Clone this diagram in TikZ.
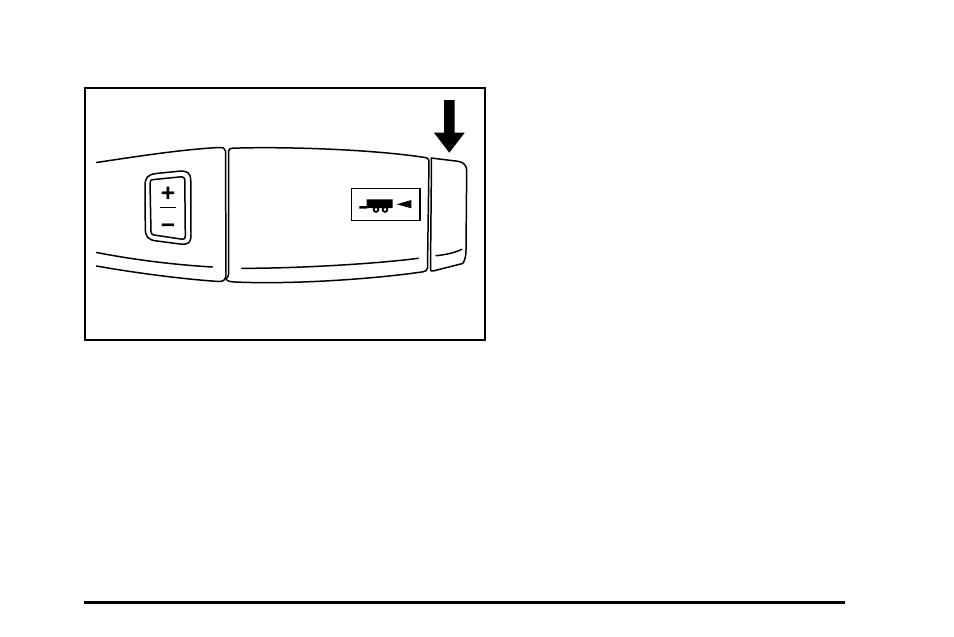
\documentclass[tikz,border=0pt]{standalone}
\usepackage{fontspec}
\setmainfont{Liberation Sans}
\usepackage{tikz}
\usetikzlibrary{calc,positioning}
\tikzset{
outline/.style={line width=0.85pt,line join=round,line cap=round},
thinline/.style={line width=0.5pt},
solid part/.style={fill=black,draw=none},
signlabel/.style={font=\bfseries\fontsize{14}{14}\selectfont,inner sep=0pt}
}
\begin{document}
\begin{tikzpicture}
[x=0.02cm,y=-0.02cm]
\useasboundingbox (0,0) rectangle (954,636);
% frame and rule
\draw[line width=1.1pt] (85,88) rectangle (485,340);
\draw[line width=2pt] (84,602.5) -- (845,602.5);
% left part of the handle
\draw[outline] (96.5,162.5) .. controls (130,157.5) and (180,149.5) .. (219,147.5) .. controls (223,147.3) and (225,148) .. (225.5,151) -- (226,274) .. controls (226,279) and (224,281.8) .. (219,281.5) .. controls (180,279) and (130,272) .. (96.5,266);
\draw[outline] (96.5,252.5) .. controls (130,259) and (170,264.5) .. (212.5,267);
% switch
\draw[outline] (145,186) .. controls (145,177) and (148,174.5) .. (157,173.4) -- (179,171.2) .. controls (188,170.5) and (190.5,173) .. (190.8,181) -- (191,234) .. controls (191,243) and (189,244.8) .. (180,244) -- (157,241) .. controls (148,240) and (145.3,237) .. (145.3,228) -- cycle;
\draw[outline] (150,183) .. controls (150,180.5) and (151,179.8) .. (153,179.6) -- (181,176.8) .. controls (183.5,176.6) and (184.7,177.5) .. (184.8,180) -- (185.3,236) .. controls (185.3,238.5) and (184.5,239.5) .. (182,239.2) -- (154,235) .. controls (152,234.7) and (151,233.8) .. (151,231.5) -- cycle;
\node[signlabel] (plus) at (168,194) {+};
\node[signlabel] (minus) at (168,229) {−};
\draw[thinline] (160,207.3) -- (175.7,207.3);
% middle part
\draw[outline] (228.5,151) .. controls (229,149) and (230,148.3) .. (233,148.2) .. controls (280,146.5) and (370,149) .. (425,157.5) .. controls (427,157.8) and (428.5,158.5) .. (429,160.5) -- (427.5,268) .. controls (427,270.5) and (425.5,271.5) .. (423,271.8) .. controls (370,279.5) and (290,284.5) .. (235,282) .. controls (230,281.8) and (227,281) .. (226,279);
\draw[outline] (228.7,151) -- (228.7,272) .. controls (228.7,276) and (227.5,278) .. (226,279);
\draw[outline] (241.7,268.3) .. controls (290,268.5) and (370,264.5) .. (418.3,258.3);
% trailer button
\draw[line width=0.85pt] (351.5,188.5) rectangle (420,220.5);
\fill[solid part] (366.7,199.3) rectangle (392.7,208) (359.3,206) rectangle (367,208.7);
\draw[line width=1pt] (376,209.5) circle (2.4) (385,209.5) circle (2.4);
\fill[solid part] (396.7,204.3) -- (411.3,200) -- (411.3,208.3) -- cycle;
% end cap
\draw[outline] (431,158) -- (458,161.3) .. controls (463,162) and (466.5,165) .. (466.7,170) -- (466,250) .. controls (466,257) and (464.5,261) .. (462.7,263.5) -- (433,271) .. controls (431,271.5) and (430.3,271) .. (430.5,268) -- (431.5,160) .. controls (431.5,158.5) and (431,158) .. (431,158);
\draw[outline] (436,255.7) .. controls (445,254.8) and (455,252.8) .. (461.7,249.3);
% arrow
\fill[solid part] (444,100) -- (454.7,100) -- (454.7,132.7) -- (464.7,132.7) -- (449.3,152.7) -- (434,132.7) -- (444,132.7) -- cycle;
\end{tikzpicture}
\end{document}
